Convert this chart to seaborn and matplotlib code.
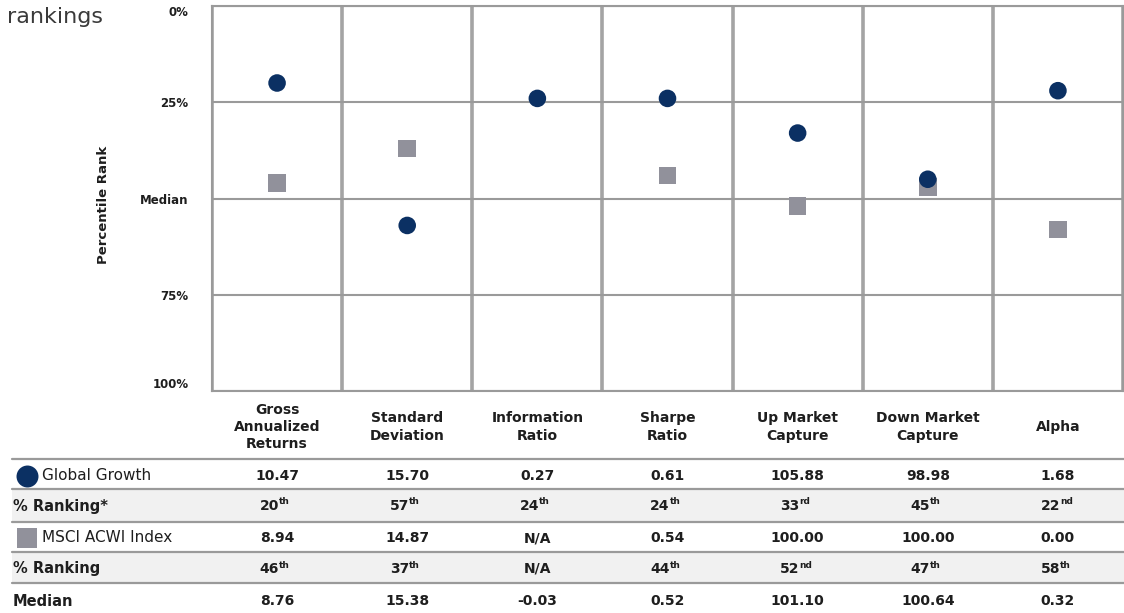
import numpy as np
import pandas as pd
import matplotlib
matplotlib.use("Agg")
import matplotlib.pyplot as plt
import seaborn as sns
from matplotlib import transforms

# ---------------- data ----------------
categories = ["Gross\nAnnualized\nReturns", "Standard\nDeviation", "Information\nRatio",
              "Sharpe\nRatio", "Up Market\nCapture", "Down Market\nCapture", "Alpha"]
series_names = ["Global Growth", "MSCI ACWI Index"]
gg_rank = [20, 57, 24, 24, 33, 45, 22]
msci_rank = [46, 37, np.nan, 44, 52, 47, 58]
gg_values = ["10.47", "15.70", "0.27", "0.61", "105.88", "98.98", "1.68"]
msci_values = ["8.94", "14.87", "N/A", "0.54", "100.00", "100.00", "0.00"]
median_values = ["8.76", "15.38", "-0.03", "0.52", "101.10", "100.64", "0.32"]
ytick_vals = [0, 25, 50, 75, 100]
ytick_labels = ["0%", "25%", "Median", "75%", "100%"]
row_labels = ["Global Growth", "% Ranking*", "MSCI ACWI Index", "% Ranking", "Median"]

NAVY = "#0b3063"
GRAY = "#91919b"
LINE = "#9a9a9a"
TXT = "#1e1e1e"

sns.set_theme(style="white")
plt.rcParams["font.family"] = ["DejaVu Sans"]

W, H = 1124, 613
fig = plt.figure(figsize=(W / 100, H / 100), dpi=100)

# main chart axes (pixel layout)
L, R, T, B = 212, 1123, 6, 391
ax = fig.add_axes([L / W, 1 - B / H, (R - L) / W, (B - T) / H])

n = len(categories)
pos = list(range(n))
df = pd.DataFrame({
    "pos": pos * 2,
    "rank": list(msci_rank) + list(gg_rank),
    "series": [series_names[1]] * n + [series_names[0]] * n,
})
sns.scatterplot(data=df, x="pos", y="rank", hue="series", style="series",
                palette={series_names[0]: NAVY, series_names[1]: GRAY},
                markers={series_names[0]: "o", series_names[1]: "s"},
                s=160, linewidth=0, legend=False, ax=ax, zorder=5)

ax.set_xlim(-0.5, n - 0.5)
ax.set_ylim(100, 0)
ax.set_xticks(np.arange(n + 1) - 0.5)
ax.set_xticklabels([])
ax.set_yticks(ytick_vals)
ax.set_yticklabels(ytick_labels)
ax.tick_params(axis="both", length=0)
ax.tick_params(axis="y", pad=17, labelsize=8.5, labelcolor=TXT)
for lab in ax.get_yticklabels():
    lab.set_fontweight("bold")
ylabs = ax.get_yticklabels()
ylabs[0].set_va("top")
ylabs[-1].set_va("bottom")
ax.set_xlabel("")
ax.set_ylabel("Percentile Rank", fontsize=9.5, fontweight="bold", color=TXT)
ax.yaxis.set_label_coords((110 - L) / (R - L), (B - 205) / (B - T))
ax.grid(axis="y", color=LINE, lw=1.5)
ax.grid(axis="x", color="#a4a4a4", lw=2.6)
ax.set_axisbelow(True)
for sp in ax.spines.values():
    sp.set_color(LINE)
    sp.set_linewidth(1.5)

fig.text(7 / W, 1 - 17 / H, "rankings", fontsize=16, color="#3a3a3a", va="center", ha="left")

# ---------------- table ----------------
axt = fig.add_axes([0, 0, 1, 1], zorder=-1)
axt.set_xlim(0, W)
axt.set_ylim(H, 0)
axt.axis("off")
axo = fig.add_axes([0, 0, 1, 1], zorder=10)
axo.set_xlim(0, W)
axo.set_ylim(H, 0)
axo.axis("off")
bt = transforms.blended_transform_factory(ax.transData, axo.transData)

row_y = [476, 506, 538, 569, 601]
seps = [459, 489, 522, 552, 583]
x0 = 12
# shaded rows
for top, bot in [(489, 522), (552, 583)]:
    axt.fill_between([x0, W], top, bot, color="#f1f1f1", lw=0)
for y in seps:
    axt.plot([x0, W], [y, y], color=LINE, lw=1.6)

# header
for i, c in enumerate(categories):
    axo.text(i, 427, c, transform=bt, ha="center", va="center", multialignment="center",
             fontsize=10, fontweight="bold", color=TXT, linespacing=1.3)

def suffix(k):
    k = int(k)
    if 10 <= k % 100 <= 20:
        return "th"
    return {1: "st", 2: "nd", 3: "rd"}.get(k % 10, "th")

def ranks_row(vals, y):
    for i, v in enumerate(vals):
        if v is None or (isinstance(v, float) and np.isnan(v)):
            axo.text(i, y, "N/A", transform=bt, ha="center", va="center",
                     fontsize=10, fontweight="bold", color=TXT)
        else:
            axo.annotate(f"{int(v)}", (i, y), xycoords=bt, xytext=(2, 0), textcoords="offset pixels",
                         ha="right", va="center", fontsize=10, fontweight="bold", color=TXT)
            axo.annotate(suffix(v), (i, y), xycoords=bt, xytext=(2, 4), textcoords="offset pixels",
                         ha="left", va="center", fontsize=6.5, fontweight="bold", color=TXT)

def values_row(vals, y):
    for i, v in enumerate(vals):
        axo.text(i, y, v, transform=bt, ha="center", va="center",
                 fontsize=10, fontweight="bold", color=TXT)

values_row(gg_values, row_y[0])
ranks_row(gg_rank, row_y[1])
values_row(msci_values, row_y[2])
ranks_row(msci_rank, row_y[3])
values_row(median_values, row_y[4])

# row labels
axo.scatter([27], [row_y[0]], s=250, marker="o", color=NAVY, lw=0)
axo.scatter([27], [row_y[2]], s=200, marker="s", color=GRAY, lw=0)
axo.text(42, row_y[0], row_labels[0], ha="left", va="center", fontsize=11, color=TXT)
axo.text(13, row_y[1], row_labels[1], ha="left", va="center", fontsize=10.5, fontweight="bold", color=TXT)
axo.text(42, row_y[2], row_labels[2], ha="left", va="center", fontsize=11, color=TXT)
axo.text(13, row_y[3], row_labels[3], ha="left", va="center", fontsize=10.5, fontweight="bold", color=TXT)
axo.text(13, row_y[4], row_labels[4], ha="left", va="center", fontsize=10.5, fontweight="bold", color=TXT)

fig.savefig("out.png", dpi=100)
